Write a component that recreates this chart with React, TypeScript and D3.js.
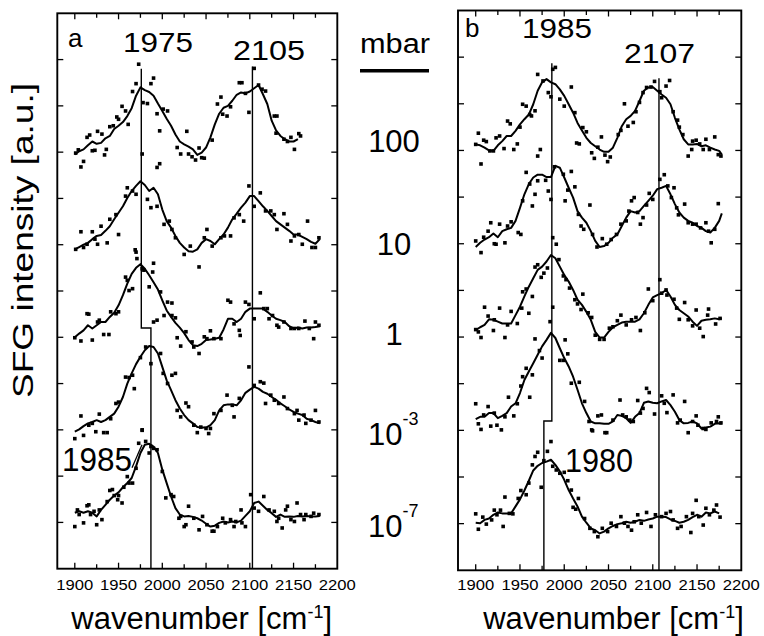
import React from 'react';
import * as d3 from 'd3';

type Pt = [number, number];

// x axis ticks (wavenumber, cm-1)
const xMajor = [1900, 1950, 2000, 2050, 2100, 2150, 2200];
const xMinor = [1925, 1975, 2025, 2075, 2125, 2175];
// y ticks in offset units; each spectrum sits on every other tick
const yTicks = [1, 2, 3, 4, 5, 6, 7, 8, 9, 10, 11];
const baselines = [9, 7, 5, 3, 1];
const pressures = ['100', '10', '1', '-3', '-7'];

// ---- panel a: smoothed lines ----
const aLine100: Pt[] = [[1900,-0.05],[1905,0.02],[1910,0.06],[1915,0.15],[1920,0.23],[1925,0.18],[1930,0.2],[1935,0.3],[1940,0.35],[1945,0.5],[1950,0.57],[1955,0.65],[1960,0.78],[1965,0.95],[1970,1.22],[1975,1.4],[1980,1.34],[1985,1.3],[1990,1.22],[1995,1.05],[2000,0.89],[2005,0.72],[2010,0.57],[2015,0.38],[2020,0.23],[2025,0.17],[2030,0.12],[2035,0.06],[2040,-0.06],[2045,-0.01],[2050,0.1],[2055,0.32],[2060,0.6],[2065,0.83],[2070,0.96],[2075,1.0],[2080,1.11],[2085,1.24],[2090,1.29],[2095,1.27],[2100,1.31],[2105,1.38],[2110,1.45],[2115,1.25],[2120,1.04],[2125,0.68],[2130,0.47],[2135,0.35],[2140,0.28],[2145,0.23],[2150,0.23],[2155,0.28]];
const aLine10: Pt[] = [[1900,-0.1],[1905,-0.05],[1910,0],[1915,0.04],[1920,0.12],[1925,0.19],[1930,0.21],[1935,0.3],[1940,0.4],[1945,0.55],[1950,0.69],[1955,0.83],[1960,1.01],[1965,1.16],[1970,1.27],[1975,1.37],[1980,1.29],[1985,1.16],[1990,1.23],[1995,1.09],[2000,0.76],[2005,0.51],[2010,0.37],[2015,0.19],[2020,0.04],[2025,-0.06],[2030,-0.14],[2035,-0.15],[2040,-0.1],[2045,0.04],[2050,0.12],[2055,0.08],[2060,0.01],[2065,0.12],[2070,0.22],[2075,0.37],[2080,0.55],[2085,0.67],[2090,0.8],[2095,0.91],[2100,1.05],[2105,1.05],[2110,0.94],[2115,0.83],[2120,0.73],[2125,0.62],[2130,0.51],[2135,0.44],[2140,0.37],[2145,0.3],[2150,0.22],[2155,0.22],[2160,0.17],[2165,0.12],[2170,0.06],[2175,0.02],[2180,0.12]];
const aLine1: Pt[] = [[1900,0],[1905,0.08],[1910,0.15],[1915,0.26],[1920,0.19],[1925,0.26],[1930,0.33],[1935,0.33],[1940,0.44],[1945,0.53],[1950,0.69],[1955,0.91],[1960,1.16],[1965,1.37],[1970,1.5],[1975,1.58],[1980,1.48],[1985,1.34],[1990,1.19],[1995,1.03],[2000,0.8],[2005,0.58],[2010,0.44],[2015,0.31],[2020,0.21],[2025,0.09],[2030,-0.06],[2035,-0.17],[2040,-0.19],[2045,-0.14],[2050,-0.06],[2055,-0.05],[2060,-0.03],[2065,-0.01],[2070,0.17],[2075,0.4],[2080,0.4],[2085,0.33],[2090,0.4],[2095,0.55],[2100,0.62],[2105,0.62],[2110,0.62],[2115,0.62],[2120,0.55],[2125,0.47],[2130,0.4],[2135,0.37],[2140,0.33],[2145,0.24],[2150,0.19],[2155,0.21],[2160,0.19],[2165,0.21],[2170,0.21],[2175,0.22],[2180,0.24]];
const aLine3: Pt[] = [[1900,-0.04],[1905,0.01],[1910,0.08],[1915,0.14],[1920,0.17],[1925,0.21],[1930,0.17],[1935,0.21],[1940,0.28],[1945,0.35],[1950,0.5],[1955,0.71],[1960,1.0],[1965,1.22],[1970,1.42],[1975,1.58],[1980,1.72],[1985,1.81],[1990,1.79],[1995,1.65],[2000,1.36],[2005,1.07],[2010,0.86],[2015,0.64],[2020,0.46],[2025,0.32],[2030,0.21],[2035,0.14],[2040,0.06],[2045,0.05],[2050,0.05],[2055,0.1],[2060,0.21],[2065,0.42],[2070,0.53],[2075,0.55],[2080,0.55],[2085,0.53],[2090,0.64],[2095,0.8],[2100,0.87],[2105,0.93],[2110,0.89],[2115,0.82],[2120,0.78],[2125,0.71],[2130,0.65],[2135,0.57],[2140,0.51],[2145,0.44],[2150,0.39],[2155,0.35],[2160,0.32],[2165,0.24],[2170,0.21],[2175,0.17],[2180,0.14]];
const aLine7: Pt[] = [[1900,0.21],[1905,0.24],[1910,0.21],[1915,0.24],[1920,0.21],[1925,0.13],[1930,0.27],[1935,0.38],[1940,0.49],[1945,0.58],[1950,0.65],[1955,0.76],[1960,0.85],[1965,0.96],[1970,1.21],[1975,1.5],[1980,1.68],[1985,1.7],[1990,1.64],[1995,1.5],[2000,1.14],[2005,0.85],[2010,0.56],[2015,0.31],[2020,0.17],[2025,0.13],[2030,0.14],[2035,0.12],[2040,0.09],[2045,0.04],[2050,-0.03],[2055,-0.09],[2060,-0.07],[2065,-0.01],[2070,0.02],[2075,0],[2080,0.02],[2085,0],[2090,0.04],[2095,0.14],[2100,0.24],[2105,0.42],[2110,0.45],[2115,0.36],[2120,0.27],[2125,0.2],[2130,0.12],[2135,0.17],[2140,0.12],[2145,0.13],[2150,0.12],[2155,0.14],[2160,0.13],[2165,0.14],[2170,0.13],[2175,0.13],[2180,0.14]];

// ---- panel a: measured points ----
const aDots100: Pt[] = [[1901,-0.02],[1904,0.05],[1907,-0.32],[1910,-0.2],[1914,0.32],[1917,0.37],[1920,0.03],[1923,0.04],[1926,0.45],[1931,0.39],[1934,-0.06],[1936,0.06],[1940,0.55],[1944,0.57],[1948,0.76],[1950,0.71],[1954,0.99],[1958,0.89],[1961,0.6],[1966,1.31],[1970,1.48],[1973,1.9],[1977,-0.04],[1978,1.07],[1983,1.05],[1987,1.48],[1990,1.6],[1994,0.83],[1994,-0.33],[1997,-0.25],[1997,0.46],[2001,0.93],[2006,0.89],[2017,0.1],[2021,-0.04],[2028,0.45],[2030,-0.04],[2034,-0.1],[2038,-0.17],[2042,0.09],[2045,-0.12],[2048,-0.13],[2057,0.26],[2063,1.04],[2067,1.19],[2069,0.82],[2074,0.78],[2078,0.98],[2088,1.5],[2091,1.5],[2095,1.27],[2099,0.86],[2105,1.81],[2110,1.45],[2114,1.36],[2118,1.32],[2128,0.78],[2130,0.41],[2131,0.78],[2139,0.28],[2143,0.23],[2147,0.32],[2151,0.06],[2156,0.4],[2158,0.35]];
const aDots10: Pt[] = [[1901,-0.1],[1907,0.28],[1910,-0.06],[1914,0.01],[1920,0.28],[1923,0.12],[1926,0.01],[1930,0.4],[1937,0.04],[1940,0.55],[1947,0.65],[1950,0.22],[1958,1.05],[1960,1.23],[1966,1.16],[1969,-0.11],[1970,1.09],[1971,-0.3],[1983,0.98],[1987,0.8],[1994,0.83],[2002,0.44],[2008,0.51],[2011,0.33],[2015,0.15],[2025,-0.21],[2032,-0.03],[2042,-0.48],[2048,0.15],[2051,0.33],[2057,-0.03],[2067,0.15],[2071,0.19],[2078,0.19],[2082,0.58],[2088,0.65],[2093,0.51],[2099,1.27],[2105,0.83],[2112,1.12],[2118,0.73],[2124,0.73],[2128,0.65],[2131,0.33],[2139,0.67],[2143,0.44],[2147,0.08],[2151,0.19],[2156,0.22],[2160,0.01],[2166,0.51],[2171,-0.06],[2175,-0.06],[2179,0.15]];
const aDots1: Pt[] = [[1900,-0.01],[1907,-0.08],[1914,0.51],[1916,0.5],[1920,-0.06],[1926,0.33],[1928,0.37],[1933,0.06],[1939,0.06],[1941,0.55],[1947,0.51],[1950,0.55],[1958,1.3],[1960,1.23],[1962,1.01],[1966,1.05],[1970,1.84],[1977,1.48],[1979,1.45],[1985,1.09],[1989,1.41],[1990,1.6],[1990,0.33],[1994,0.37],[1998,0.98],[2002,0.47],[2006,0.76],[2011,0.74],[2011,0.47],[2015,0.42],[2017,-0.01],[2021,-0.19],[2027,0.12],[2034,-0.1],[2036,-0.21],[2042,-0.35],[2048,0.01],[2051,-0.03],[2055,0.14],[2059,-0.03],[2067,-0.03],[2075,0.8],[2078,0.76],[2082,0.29],[2088,0.15],[2089,0.04],[2095,0.76],[2099,0.71],[2105,0.4],[2112,0.96],[2116,0.62],[2120,0.62],[2122,0.4],[2126,0.47],[2131,0.26],[2133,0.22],[2139,0.33],[2147,0.19],[2151,0.19],[2156,0.19],[2163,0.35],[2168,0.19],[2173,-0.03],[2175,0.33],[2179,0.26]];
const aDots3: Pt[] = [[1900,-0.19],[1907,0.3],[1910,-0.12],[1916,0.1],[1920,0.14],[1924,-0.04],[1928,0.34],[1933,-0.06],[1937,-0.06],[1941,0.24],[1947,0.57],[1950,0.6],[1958,1.14],[1962,1.13],[1966,1.18],[1968,0.89],[1975,1.56],[1977,-0.01],[1981,1.79],[1987,1.43],[1998,1.65],[2001,1.22],[2006,1.0],[2011,1.18],[2015,1.22],[2017,0.42],[2021,0.28],[2027,0.58],[2030,0.5],[2036,0.1],[2040,-0.06],[2044,0.06],[2050,0.03],[2053,-0.08],[2055,0.03],[2059,0.35],[2067,0.42],[2074,0.75],[2080,0.53],[2082,0.28],[2088,0.68],[2099,1.36],[2105,0.96],[2112,1.04],[2116,1.01],[2118,0.57],[2124,0.75],[2128,0.64],[2133,0.57],[2139,0.71],[2143,0.46],[2151,0.35],[2154,0.42],[2156,0.21],[2162,0.32],[2164,0.14],[2170,0.21],[2175,0.42],[2179,0.17]];
const aDots7: Pt[] = [[1900,-0.09],[1903,0.27],[1905,0.17],[1910,-0.01],[1914,0.36],[1916,0.38],[1918,0.17],[1922,0.24],[1925,-0.05],[1928,0.27],[1931,0.06],[1937,0.45],[1940,0.69],[1943,0.71],[1945,0.58],[1949,0.49],[1950,0.58],[1954,0.42],[1956,0.76],[1960,0.99],[1962,0.85],[1966,0.85],[1970,1.17],[1973,1.71],[1977,2.0],[1981,1.75],[1985,1.5],[1987,1.64],[1990,1.6],[1994,1.57],[2000,1.1],[2004,0.53],[2010,0.6],[2013,0.56],[2019,0.09],[2021,0.13],[2025,-0.09],[2027,-0.05],[2030,0.35],[2036,0.09],[2042,-0.16],[2046,0.13],[2051,-0.05],[2057,-0.19],[2059,-0.19],[2063,-0.09],[2069,0.09],[2072,-0.01],[2078,0.06],[2082,-0.09],[2084,0.02],[2090,0.27],[2091,-0.01],[2095,-0.09],[2101,0.6],[2105,0.31],[2110,0.24],[2116,0.56],[2122,0.27],[2128,0.24],[2131,0.02],[2133,0.09],[2137,-0.12],[2141,0.27],[2143,0.35],[2147,0.06],[2151,0.02],[2154,0.42],[2158,0.17],[2162,0.06],[2164,0.17],[2170,0.13],[2173,0.2],[2179,0.17]];

// ---- panel b: smoothed lines ----
const bLine100: Pt[] = [[1900,0.13],[1905,0.11],[1910,0.06],[1915,0],[1920,-0.01],[1925,0.11],[1930,0.2],[1935,0.31],[1940,0.31],[1945,0.42],[1950,0.56],[1955,0.67],[1960,0.77],[1965,0.99],[1970,1.28],[1975,1.46],[1980,1.53],[1985,1.46],[1990,1.42],[1995,1.31],[2000,1.17],[2005,0.99],[2010,0.81],[2015,0.59],[2020,0.43],[2025,0.27],[2030,0.16],[2035,0.09],[2040,0.02],[2045,-0.03],[2050,-0.03],[2055,0.06],[2060,0.27],[2065,0.52],[2070,0.67],[2075,0.74],[2080,0.85],[2085,1.06],[2090,1.28],[2095,1.35],[2100,1.36],[2105,1.28],[2110,1.2],[2115,1.13],[2120,0.99],[2125,0.7],[2130,0.45],[2135,0.24],[2140,0.13],[2145,0.13],[2150,0.14],[2155,0.09],[2160,0.11],[2165,0.06],[2170,0.02],[2175,-0.01],[2178,-0.09]];
const bLine10: Pt[] = [[1900,-0.07],[1905,0.02],[1910,0.09],[1915,0.14],[1920,0.22],[1925,0.14],[1930,0.27],[1935,0.31],[1940,0.34],[1945,0.49],[1950,0.77],[1955,1.06],[1960,1.28],[1965,1.42],[1970,1.48],[1975,1.48],[1980,1.43],[1985,1.43],[1990,1.67],[1995,1.63],[2000,1.42],[2005,1.2],[2010,0.99],[2015,0.7],[2020,0.56],[2025,0.45],[2030,0.27],[2035,0.06],[2040,-0.07],[2045,-0.05],[2050,0.02],[2055,0.13],[2060,0.2],[2065,0.38],[2070,0.56],[2075,0.7],[2080,0.67],[2085,0.7],[2090,0.81],[2095,0.92],[2100,1.03],[2105,1.17],[2110,1.2],[2115,1.24],[2120,1.06],[2125,0.85],[2130,0.67],[2135,0.56],[2140,0.49],[2145,0.45],[2150,0.38],[2155,0.34],[2160,0.27],[2165,0.24],[2170,0.34],[2175,0.49],[2178,0.65]];
const bLine1: Pt[] = [[1900,0.15],[1905,0.21],[1910,0.26],[1915,0.38],[1920,0.37],[1925,0.33],[1930,0.29],[1935,0.29],[1940,0.29],[1945,0.47],[1950,0.65],[1955,0.87],[1960,1.08],[1965,1.26],[1970,1.44],[1975,1.51],[1980,1.62],[1985,1.76],[1990,1.69],[1995,1.51],[2000,1.33],[2005,1.19],[2010,1.01],[2015,0.8],[2020,0.69],[2025,0.54],[2030,0.37],[2035,0.11],[2040,-0.01],[2045,-0.01],[2050,0.11],[2055,0.21],[2060,0.26],[2065,0.31],[2070,0.33],[2075,0.33],[2080,0.33],[2085,0.38],[2090,0.51],[2095,0.69],[2100,0.85],[2105,0.9],[2110,0.94],[2115,1.01],[2120,0.87],[2125,0.69],[2130,0.58],[2135,0.51],[2140,0.44],[2145,0.33],[2150,0.24],[2155,0.35],[2160,0.37],[2165,0.38],[2170,0.4],[2175,0.38],[2178,0.4]];
const bLine3: Pt[] = [[1900,0.24],[1905,0.29],[1910,0.29],[1915,0.37],[1920,0.37],[1925,0.26],[1930,0.31],[1935,0.37],[1940,0.51],[1945,0.58],[1950,0.8],[1955,1.08],[1960,1.26],[1965,1.44],[1970,1.62],[1975,1.8],[1980,1.94],[1985,2.09],[1990,1.98],[1995,1.76],[2000,1.55],[2005,1.37],[2010,1.15],[2015,0.87],[2020,0.58],[2025,0.37],[2030,0.19],[2035,0.15],[2040,0.15],[2045,0.14],[2050,0.14],[2055,0.19],[2060,0.33],[2065,0.31],[2070,0.26],[2075,0.16],[2080,0.29],[2085,0.37],[2090,0.59],[2095,0.62],[2100,0.59],[2105,0.58],[2110,0.62],[2115,0.65],[2120,0.54],[2125,0.4],[2130,0.22],[2135,0.15],[2140,0.16],[2145,0.19],[2150,0.15],[2155,0.04],[2160,0.06],[2165,0.08],[2170,0.14],[2175,0.15],[2178,0.14]];
const bLine7: Pt[] = [[1900,0.02],[1905,0.01],[1910,0.08],[1915,0.11],[1920,0.19],[1925,0.24],[1930,0.22],[1935,0.22],[1940,0.22],[1945,0.37],[1950,0.52],[1955,0.71],[1960,0.92],[1965,1.14],[1970,1.24],[1975,1.3],[1980,1.33],[1985,1.37],[1990,1.26],[1995,1.12],[2000,0.94],[2005,0.72],[2010,0.54],[2015,0.37],[2020,0.15],[2025,0.02],[2030,-0.1],[2035,-0.14],[2040,-0.21],[2045,-0.17],[2050,-0.1],[2055,-0.05],[2060,-0.01],[2065,0.01],[2070,0.04],[2075,0.02],[2080,0.04],[2085,0.08],[2090,0.06],[2095,0.09],[2100,0.11],[2105,0.15],[2110,0.15],[2115,0.14],[2120,0.09],[2125,0.06],[2130,0.02],[2135,0.04],[2140,0.08],[2145,0.14],[2150,0.19],[2155,0.15],[2160,0.24],[2165,0.22],[2170,0.26],[2175,0.22]];

// ---- panel b: measured points ----
const bDots100: Pt[] = [[1900,0.13],[1903,0.37],[1906,-0.29],[1909,0.22],[1912,0.19],[1916,-0.01],[1920,-0.01],[1923,0.27],[1927,0.31],[1932,0.04],[1936,0.63],[1939,0.57],[1943,0.02],[1947,0.14],[1950,0.5],[1953,0.99],[1957,0.95],[1961,0.77],[1963,0.74],[1967,0.85],[1970,1.63],[1970,-0.12],[1973,0.02],[1976,1.49],[1982,1.24],[1985,1.15],[1987,1.74],[1990,1.78],[1995,1.1],[2000,0.95],[2008,1.36],[2012,0.81],[2014,0.16],[2017,0.14],[2021,0.49],[2025,0.4],[2031,-0.05],[2034,-0.17],[2038,0.07],[2042,0.29],[2046,-0.1],[2049,-0.24],[2052,-0.14],[2061,0.34],[2064,0.43],[2068,1.0],[2072,0.52],[2078,0.6],[2081,0.83],[2085,1.03],[2089,1.24],[2093,1.35],[2098,1.36],[2102,1.48],[2108,1.26],[2110,1.13],[2115,1.38],[2119,1.5],[2123,0.83],[2128,0.65],[2130,0.5],[2134,0.34],[2140,-0.12],[2144,0.02],[2145,0.2],[2149,0.22],[2153,0.14],[2157,0.02],[2160,0.24],[2164,0.02],[2170,0.29],[2174,-0.09],[2177,-0.12]];
const bDots10: Pt[] = [[1900,0.06],[1906,-0.19],[1909,0.14],[1914,0.27],[1917,0.45],[1921,0],[1923,-0.01],[1927,0.42],[1933,0.02],[1936,0.38],[1940,0.47],[1948,0.24],[1951,0.2],[1953,0.92],[1957,1.53],[1961,1.28],[1964,0.81],[1967,1.06],[1970,1.35],[1979,1.36],[1982,1.13],[1985,0.95],[1987,0.13],[1989,1.65],[1991,-0.01],[1999,1.49],[2001,0.92],[2004,1.15],[2008,1.55],[2012,1.22],[2016,0.63],[2019,0.38],[2022,0.31],[2029,0.83],[2032,0.2],[2037,-0.07],[2043,0.11],[2048,-0.01],[2053,0.09],[2059,0.2],[2064,0.42],[2070,0.49],[2073,0.7],[2076,0.92],[2079,0.99],[2083,0.67],[2086,0.42],[2089,0.56],[2093,0.83],[2096,1.08],[2100,0.95],[2108,1.38],[2113,1.48],[2117,1.24],[2121,0.99],[2124,1.2],[2127,0.77],[2129,0.62],[2136,0.85],[2140,0.45],[2145,0.42],[2149,0.42],[2154,0.34],[2160,0.45],[2163,0.27],[2166,0.02],[2170,0.31],[2174,0.86]];
const bDots1: Pt[] = [[1900,0.16],[1903,0.11],[1906,-0.01],[1910,0.64],[1914,0.45],[1920,0.14],[1921,0.37],[1927,0.62],[1933,-0.01],[1936,0.26],[1940,0.55],[1947,0.29],[1952,0.62],[1953,0.97],[1957,1.03],[1960,0.51],[1964,0.87],[1967,1.5],[1970,1.55],[1974,1.28],[1977,1.37],[1981,1.48],[1984,0.33],[1987,0.64],[1994,1.66],[1999,1.31],[2002,1.23],[2006,1.05],[2012,0.8],[2015,0.71],[2019,0.59],[2021,0.92],[2027,0.52],[2031,0.42],[2035,0.04],[2040,-0.05],[2045,-0.05],[2051,0.19],[2055,0.22],[2060,0.35],[2064,0.47],[2070,0.26],[2076,0.37],[2081,0.42],[2086,0.14],[2091,0.52],[2095,1.03],[2100,0.78],[2108,1.23],[2110,0.94],[2115,1.01],[2116,0.9],[2124,0.81],[2127,0.62],[2130,0.38],[2136,0.74],[2140,0.37],[2145,0.24],[2149,0.58],[2153,0.19],[2157,0.01],[2162,0.47],[2163,0.6],[2171,0.28],[2176,0.4]];
const bDots3: Pt[] = [[1900,0.57],[1903,0.14],[1906,0.02],[1909,0.33],[1914,0.51],[1917,0.09],[1921,0.37],[1924,0.11],[1929,0.01],[1933,0.29],[1937,0.71],[1943,0.31],[1947,0.57],[1951,0.95],[1953,1.15],[1957,1.33],[1961,0.71],[1964,1.19],[1967,1.96],[1972,1.71],[1975,1.55],[1995,1.5],[1999,1.5],[2001,1.94],[2004,1.64],[2008,1.01],[2017,1.03],[2023,0.62],[2028,0.19],[2031,0.01],[2032,-0.01],[2038,0.31],[2042,0.33],[2046,-0.05],[2048,-0.05],[2055,0.22],[2063,0.65],[2066,0.33],[2070,0.29],[2074,0.22],[2078,0.19],[2083,0.64],[2086,0.37],[2089,0.47],[2093,0.9],[2096,0.81],[2102,0.35],[2110,0.74],[2113,0.58],[2116,0.38],[2123,0.76],[2128,0.16],[2131,0.22],[2136,0.62],[2140,-0.05],[2145,0.19],[2149,0.31],[2151,0.11],[2157,0.04],[2160,0.02],[2166,0.16],[2172,0.19],[2174,0.29],[2177,0.16]];
const bDots7: Pt[] = [[1900,0.21],[1903,-0.12],[1908,0.14],[1912,-0.01],[1918,0.08],[1921,0.29],[1924,0.19],[1928,0.29],[1931,-0.06],[1933,0.57],[1938,0.22],[1942,0.21],[1948,0.54],[1951,0.71],[1957,0.62],[1960,0.87],[1964,1.26],[1967,1.44],[1970,1.53],[1974,0.78],[1977,1.35],[1981,1.55],[1985,1.76],[1987,1.23],[1991,1.15],[1995,1.08],[2000,1.1],[2004,0.92],[2008,0.72],[2010,0.35],[2013,0.31],[2016,0.54],[2023,0.11],[2029,-0.1],[2034,-0.17],[2038,-0.28],[2043,-0.1],[2049,-0.17],[2053,0.01],[2059,-0.06],[2064,0.15],[2068,0.01],[2072,-0.06],[2076,-0.14],[2079,0.04],[2083,0.19],[2087,0.01],[2093,0.24],[2098,-0.06],[2103,0.19],[2110,0.15],[2115,0.22],[2120,0.26],[2123,0.08],[2128,-0.1],[2132,-0.06],[2138,0.15],[2143,-0.19],[2145,0.22],[2149,0.5],[2152,0.15],[2157,-0.03],[2160,0.33],[2164,0.19],[2169,0.29],[2172,0.4],[2176,0.14]];

// peak marker lines [wavenumber, offset units]
const aPeakLines: Pt[][] = [
  [[1976, 10.8], [1976, 5.2], [1987, 5.2], [1987, 0]],
  [[2103, 10.85], [2103, 0]],
];
const bPeakLines: Pt[][] = [
  [[1986, 10.87], [1986, 3.2], [1977, 3.2], [1977, 0]],
  [[2107, 10.55], [2107, 0]],
];

const FONT = '"Liberation Sans", Arial, Helvetica, sans-serif';

function Panel({ xs, ys, lines, dots, peaks }: {
  xs: d3.ScaleLinear<number, number>;
  ys: d3.ScaleLinear<number, number>;
  lines: Pt[][];
  dots: Pt[][];
  peaks: Pt[][];
}) {
  const [x0, x1] = xs.range();
  const [yb, yt] = ys.range();
  const peakPath = d3.line<Pt>().x(d => xs(d[0])).y(d => ys(d[1]));
  return (
    <g>
      {/* frame ticks, all pointing inwards */}
      {xMajor.slice(0, -1).map(t => (
        <g key={'M' + t} stroke="#000" strokeWidth={1.3}>
          <line x1={xs(t)} x2={xs(t)} y1={yb} y2={yb - 6} />
          <line x1={xs(t)} x2={xs(t)} y1={yt} y2={yt + 6} />
        </g>
      ))}
      {xMinor.map(t => (
        <g key={'m' + t} stroke="#000" strokeWidth={1.3}>
          <line x1={xs(t)} x2={xs(t)} y1={yb} y2={yb - 4.5} />
          <line x1={xs(t)} x2={xs(t)} y1={yt} y2={yt + 4.5} />
        </g>
      ))}
      {yTicks.map(t => (
        <g key={'y' + t} stroke="#000" strokeWidth={1.3}>
          <line x1={x0} x2={x0 + 6} y1={ys(t)} y2={ys(t)} />
          <line x1={x1} x2={x1 - 6} y1={ys(t)} y2={ys(t)} />
        </g>
      ))}
      {xMajor.map(t => (
        <text key={'l' + t} x={xs(t)} y={590} fontSize={14} textAnchor="middle"
          textLength={37} lengthAdjust="spacingAndGlyphs" fontFamily={FONT}>{t}</text>
      ))}
      {peaks.map((p, i) => (
        <path key={'p' + i} d={peakPath(p) || ''} fill="none" stroke="#000" strokeWidth={1.4} />
      ))}
      {lines.map((ln, i) => {
        const base = baselines[i];
        const gen = d3.line<Pt>().x(d => xs(d[0])).y(d => ys(base + d[1]));
        return <path key={'s' + i} d={gen(ln) || ''} fill="none" stroke="#000" strokeWidth={2} strokeLinejoin="round" />;
      })}
      {dots.map((ds, i) => ds.map((d, j) => (
        <rect key={'d' + i + '-' + j} x={xs(d[0]) - 1.8} y={ys(baselines[i] + d[1]) - 1.8}
          width={3.6} height={3.6} fill="#000" />
      )))}
      <rect x={x0} y={yt} width={x1 - x0} height={yb - yt} fill="none" stroke="#000" strokeWidth={1.9} />
    </g>
  );
}

export default function App() {
  const xa = d3.scaleLinear().domain([1880, 2200]).range([57.3, 337.3]);
  const ya = d3.scaleLinear().domain([0, 12]).range([568.7, 13.3]);
  const xb = d3.scaleLinear().domain([1880, 2200]).range([458, 741.3]);
  const yb = d3.scaleLinear().domain([0, 12]).range([570.3, 10.5]);

  const pressureY = [152, 255, 345, 445, 537];

  return (
    <svg width={764} height={636} style={{ position: 'absolute', left: 0, top: 0, background: '#fff' }}
      fontFamily={FONT}>
      <rect width={764} height={636} fill="#fff" />
      <Panel xs={xa} ys={ya} lines={[aLine100, aLine10, aLine1, aLine3, aLine7]}
        dots={[aDots100, aDots10, aDots1, aDots3, aDots7]} peaks={aPeakLines} />
      <Panel xs={xb} ys={yb} lines={[bLine100, bLine10, bLine1, bLine3, bLine7]}
        dots={[bDots100, bDots10, bDots1, bDots3, bDots7]} peaks={bPeakLines} />

      {/* panel labels and peak positions */}
      <text x={68} y={47} fontSize={26}>a</text>
      <text x={158} y={52} fontSize={27} textAnchor="middle" textLength={70} lengthAdjust="spacingAndGlyphs">1975</text>
      <text x={269} y={60} fontSize={27} textAnchor="middle" textLength={72} lengthAdjust="spacingAndGlyphs">2105</text>
      <text x={97} y={471} fontSize={34} textAnchor="middle" textLength={70} lengthAdjust="spacingAndGlyphs">1985</text>
      <line x1={xa(1965.4)} y1={ya(2.18)} x2={xa(1976.8)} y2={ya(2.68)} stroke="#000" strokeWidth={1.3} />

      <text x={465} y={37} fontSize={26}>b</text>
      <text x={557} y={38} fontSize={27} textAnchor="middle" textLength={70} lengthAdjust="spacingAndGlyphs">1985</text>
      <text x={659.5} y={63} fontSize={27} textAnchor="middle" textLength={71} lengthAdjust="spacingAndGlyphs">2107</text>
      <text x={599} y={471.5} fontSize={34} textAnchor="middle" textLength={68} lengthAdjust="spacingAndGlyphs">1980</text>

      {/* pressure column */}
      <text x={395} y={53} fontSize={27} textAnchor="middle" textLength={70} lengthAdjust="spacingAndGlyphs">mbar</text>
      <rect x={360} y={69} width={69} height={3.5} fill="#000" />
      {pressures.map((p, i) => p.startsWith('-') ? (
        <text key={p} x={368} y={pressureY[i]} fontSize={31}>10<tspan dy={-20} fontSize={18}>{p}</tspan></text>
      ) : (
        <text key={p} x={394} y={pressureY[i]} fontSize={31} textAnchor="middle">{p}</text>
      ))}

      {/* axis titles */}
      <text transform="translate(33,240.5) rotate(-90)" fontSize={30} textAnchor="middle"
        textLength={315} lengthAdjust="spacingAndGlyphs">SFG intensity [a.u.]</text>
      <text x={201.7} y={629} fontSize={31} textAnchor="middle">wavenumber [cm<tspan dy={-11} fontSize={18}>-1</tspan><tspan dy={11}>]</tspan></text>
      <text x={613.5} y={629} fontSize={31} textAnchor="middle">wavenumber [cm<tspan dy={-11} fontSize={18}>-1</tspan><tspan dy={11}>]</tspan></text>
    </svg>
  );
}
